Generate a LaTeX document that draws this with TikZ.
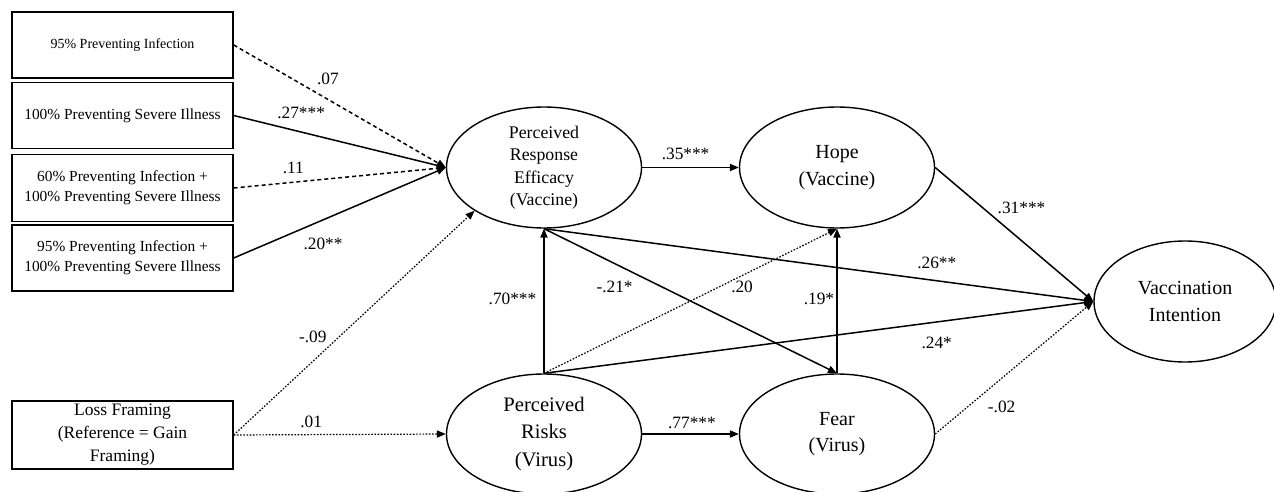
\documentclass[tikz,border=0pt]{standalone}
\usepackage{fontspec}
\setmainfont{Liberation Serif}
\usetikzlibrary{arrows.meta,shapes.geometric}
\begin{document}
\begin{tikzpicture}[x=0.5pt,y=-0.5pt,
	box/.style={draw,line width=0.7pt,minimum width=110.5pt,minimum height=33pt,inner sep=1pt,align=center,font=\fontsize{7.7}{10}\selectfont},
	latent/.style={draw,ellipse,line width=0.7pt,minimum width=97.5pt,minimum height=60.5pt,inner sep=0pt,align=center,font=\fontsize{10}{13.3}\selectfont},
	link/.style={line width=0.75pt,-{Triangle[length=4.5pt,width=3.6pt]}},
	dashlink/.style={link,dash pattern=on 2pt off 1.5pt},
	dotlink/.style={link,line width=0.6pt,dash pattern=on 0.8pt off 0.8pt},
	coef/.style={inner sep=0pt,font=\fontsize{8.65}{10}\selectfont}]
	\useasboundingbox (0,0) rectangle (1274,492);
	\node[box,font=\fontsize{7}{9}\selectfont] (b1) at (122.5,45) {95\% Preventing Infection};
	\node[box] (b2) at (122.5,115.5) {100\% Preventing Severe Illness};
	\node[box,minimum height=33.5pt] (b3) at (122.5,188) {60\% Preventing Infection +\\100\% Preventing Severe Illness};
	\node[box] (b4) at (122.5,258) {95\% Preventing Infection +\\100\% Preventing Severe Illness};
	\node[box,minimum height=34pt,font=\fontsize{8.75}{11.5}\selectfont] (loss) at (122.5,435) {Loss Framing\\(Reference = Gain\\Framing)};
	\node[latent,font=\fontsize{8.9}{11.25}\selectfont] (pre) at (544,167.5) {Perceived\\Response\\Efficacy\\(Vaccine)};
	\node[latent] (hope) at (837,167.5) {Hope\\(Vaccine)};
	\node[latent,minimum height=60pt,font=\fontsize{10.3}{13.75}\selectfont] (risks) at (544,434) {Perceived\\Risks\\(Virus)};
	\node[latent,minimum height=60pt] (fear) at (837,434) {Fear\\(Virus)};
	\node[latent,minimum width=91pt] (vi) at (1185,301.5) {Vaccination\\Intention};
	\draw[dashlink] (b1.east) -- (pre.west) node[coef,pos=0.444,yshift=10.2pt] (w1) {.07};
	\draw[link] (b2.east) -- (pre.west) node[coef,pos=0.318,yshift=9.5pt] (w2) {.27***};
	\draw[dashlink] (b3.east) -- (pre.west) node[coef,pos=0.281,yshift=7.1pt] (w3) {.11};
	\draw[link] (b4.east) -- (pre.west) node[coef,pos=0.421,yshift=-12pt] (w4) {.20**};
	\draw[dotlink] (loss.east) -- (pre.south west) node[coef,pos=0.328,yshift=12.2pt] (w5) {-.09};
	\draw[dotlink] (loss.east) -- (risks.west) node[coef,pos=0.365,yshift=6.5pt] (w6) {.01};
	\draw[link] (pre.east) -- (hope.west) node[coef,pos=0.449,yshift=6.75pt] (w7) {.35***};
	\draw[link] (risks.north) -- (pre.south) node[coef,pos=0.5,xshift=-15.75pt,yshift=1pt] (w8) {.70***};
	\draw[link] (pre.south) -- (fear.north) node[coef,pos=0.241,yshift=-11.9pt] (w9) {-.21*};
	\draw[dotlink] (risks.north) -- (hope.south) node[coef,pos=0.676,yshift=-5.9pt] (w10) {.20};
	\draw[link] (fear.north) -- (hope.south) node[coef,pos=0.5,xshift=-9pt,yshift=1pt] (w11) {.19*};
	\draw[link] (risks.east) -- (fear.west) node[coef,pos=0.515,yshift=5.5pt] (w12) {.77***};
	\draw[link] (pre.south) -- (vi.west) node[coef,pos=0.715,yshift=8.8pt] (w13) {.26**};
	\draw[link] (risks.north) -- (vi.west) node[coef,pos=0.715,yshift=-10.4pt] (w14) {.24*};
	\draw[link] (hope.east) -- (vi.west) node[coef,pos=0.546,yshift=16.3pt] (w15) {.31***};
	\draw[dotlink] (fear.east) -- (vi.west) node[coef,pos=0.42,yshift=-14.3pt] (w16) {-.02};
\end{tikzpicture}
\end{document}
